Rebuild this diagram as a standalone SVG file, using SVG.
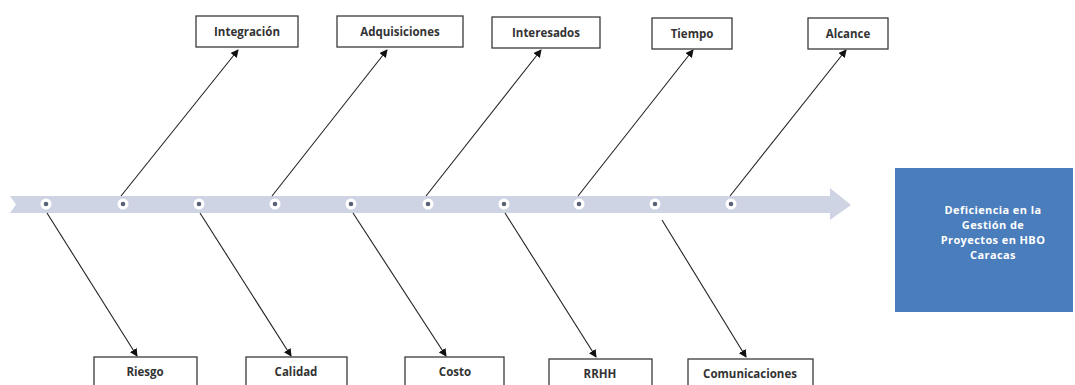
<svg xmlns="http://www.w3.org/2000/svg" width="1075" height="385" viewBox="0 0 1075 385">
<style>
.box{fill:#fff;stroke:#3a3a3a;stroke-width:1.3}
.lbl{font-family:"Open Sans","Liberation Sans",sans-serif;font-weight:bold;font-size:11.5px;fill:#333;text-anchor:middle}
.con{stroke:#222;stroke-width:1.1;fill:none;marker-end:url(#ah)}
.dot{fill:#fff}
.dc{fill:#5a6275}
.eff{font-family:"Open Sans","Liberation Sans",sans-serif;font-weight:bold;font-size:11px;letter-spacing:0.4px;fill:#fff;text-anchor:middle}
</style>
<defs>
<marker id="ah" markerWidth="8" markerHeight="8" refX="7" refY="4" orient="auto" markerUnits="userSpaceOnUse">
<path d="M0,0 L8,4 L0,8 Z" fill="#111"/>
</marker>
</defs>
<rect width="1075" height="385" fill="#fff"/>
<g id="spine">
<path d="M10,196 L830,196 L830,188 L851,205 L830,220 L830,213 L10,213 L16,204.5 Z" fill="#cfd4e4"/>
<g>
<circle class="dot" cx="46" cy="204" r="5.5"/><circle class="dc" cx="46" cy="204" r="2.3"/>
<circle class="dot" cx="123" cy="204" r="5.5"/><circle class="dc" cx="123" cy="204" r="2.3"/>
<circle class="dot" cx="199" cy="204" r="5.5"/><circle class="dc" cx="199" cy="204" r="2.3"/>
<circle class="dot" cx="275" cy="204" r="5.5"/><circle class="dc" cx="275" cy="204" r="2.3"/>
<circle class="dot" cx="351" cy="204" r="5.5"/><circle class="dc" cx="351" cy="204" r="2.3"/>
<circle class="dot" cx="428" cy="204" r="5.5"/><circle class="dc" cx="428" cy="204" r="2.3"/>
<circle class="dot" cx="504" cy="204" r="5.5"/><circle class="dc" cx="504" cy="204" r="2.3"/>
<circle class="dot" cx="579" cy="204" r="5.5"/><circle class="dc" cx="579" cy="204" r="2.3"/>
<circle class="dot" cx="655" cy="204" r="5.5"/><circle class="dc" cx="655" cy="204" r="2.3"/>
<circle class="dot" cx="731" cy="204" r="5.5"/><circle class="dc" cx="731" cy="204" r="2.3"/>
</g>
</g>
<g id="connectors">
<line class="con" x1="121" y1="196" x2="238" y2="50"/>
<line class="con" x1="272" y1="196" x2="387" y2="50"/>
<line class="con" x1="426" y1="196" x2="541" y2="50"/>
<line class="con" x1="578" y1="196" x2="693" y2="50"/>
<line class="con" x1="730" y1="196" x2="846" y2="50"/>
<line class="con" x1="47" y1="213" x2="137" y2="356"/>
<line class="con" x1="200" y1="213" x2="291" y2="356"/>
<line class="con" x1="353" y1="213" x2="446" y2="356"/>
<line class="con" x1="505" y1="213" x2="596" y2="357"/>
<line class="con" x1="662" y1="220" x2="746" y2="357"/>
</g>
<g id="n-integracion"><rect class="box" x="196" y="16" width="102" height="31"/><text class="lbl" x="247" y="35.5">Integración</text></g>
<g id="n-adquisiciones"><rect class="box" x="337" y="16" width="126" height="31"/><text class="lbl" x="400" y="35.5">Adquisiciones</text></g>
<g id="n-interesados"><rect class="box" x="492" y="17" width="108" height="31"/><text class="lbl" x="546" y="36.5">Interesados</text></g>
<g id="n-tiempo"><rect class="box" x="652" y="18" width="80" height="31"/><text class="lbl" x="692" y="37.5">Tiempo</text></g>
<g id="n-alcance"><rect class="box" x="808" y="18" width="80" height="31"/><text class="lbl" x="848" y="37.5">Alcance</text></g>
<g id="n-riesgo"><rect class="box" x="94" y="357" width="103" height="34"/><text class="lbl" x="145" y="375.5">Riesgo</text></g>
<g id="n-calidad"><rect class="box" x="246" y="357" width="101" height="34"/><text class="lbl" x="296" y="375.5">Calidad</text></g>
<g id="n-costo"><rect class="box" x="405" y="357" width="99" height="34"/><text class="lbl" x="455" y="375.5">Costo</text></g>
<g id="n-rrhh"><rect class="box" x="549" y="359" width="103" height="34"/><text class="lbl" x="600" y="377.5">RRHH</text></g>
<g id="n-comunicaciones"><rect class="box" x="688" y="359" width="125" height="34"/><text class="lbl" x="750" y="377.5">Comunicaciones</text></g>
<g id="n-efecto">
<rect x="895" y="168" width="178" height="144" fill="#4a7dbb"/>
<text class="eff" x="993" y="214">Deficiencia en la</text>
<text class="eff" x="993" y="229">Gestión de</text>
<text class="eff" x="993" y="244">Proyectos en HBO</text>
<text class="eff" x="993" y="259">Caracas</text>
</g>
</svg>
